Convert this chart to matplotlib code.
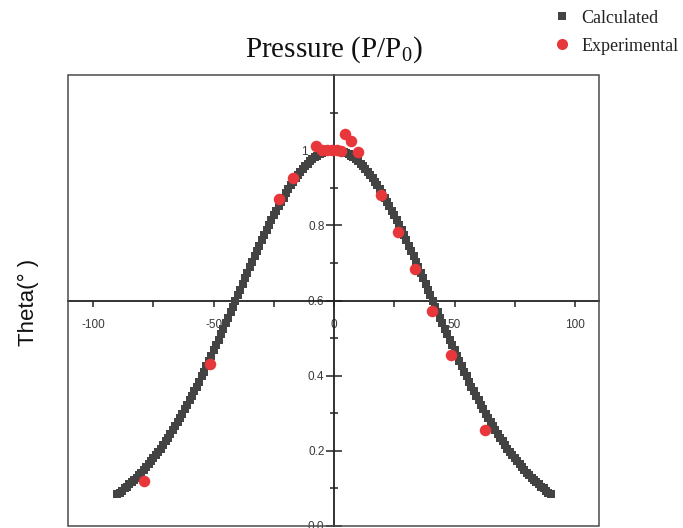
import matplotlib
matplotlib.use('Agg')
import matplotlib.pyplot as plt
from matplotlib.lines import Line2D
from matplotlib.patches import Rectangle
from matplotlib.ticker import FixedLocator
from matplotlib.transforms import ScaledTranslation

# ---------------- data ----------------
calc_x = list(range(-90, 91))
calc_y = [
    0.085, 0.089, 0.094, 0.100, 0.105, 0.111, 0.116, 0.122, 0.129, 0.135,
    0.142, 0.149, 0.156, 0.164, 0.172, 0.180, 0.188, 0.197, 0.206, 0.215,
    0.225, 0.234, 0.244, 0.255, 0.265, 0.276, 0.287, 0.298, 0.310, 0.322,
    0.334, 0.346, 0.359, 0.371, 0.384, 0.398, 0.411, 0.425, 0.439, 0.453,
    0.467, 0.481, 0.495, 0.510, 0.525, 0.539, 0.554, 0.569, 0.584, 0.599,
    0.614, 0.629, 0.644, 0.659, 0.674, 0.688, 0.703, 0.718, 0.732, 0.746,
    0.760, 0.774, 0.787, 0.801, 0.814, 0.827, 0.839, 0.851, 0.863, 0.874,
    0.885, 0.896, 0.906, 0.916, 0.925, 0.934, 0.942, 0.950, 0.957, 0.964,
    0.970, 0.976, 0.981, 0.985, 0.989, 0.992, 0.995, 0.997, 0.999, 1.000,
    1.000,
    1.000, 0.999, 0.997, 0.995, 0.992, 0.989, 0.985, 0.981, 0.976, 0.970,
    0.964, 0.957, 0.950, 0.942, 0.934, 0.925, 0.916, 0.906, 0.896, 0.885,
    0.874, 0.863, 0.851, 0.839, 0.827, 0.814, 0.801, 0.787, 0.774, 0.760,
    0.746, 0.732, 0.718, 0.703, 0.688, 0.674, 0.659, 0.644, 0.629, 0.614,
    0.599, 0.584, 0.569, 0.554, 0.539, 0.525, 0.510, 0.495, 0.481, 0.467,
    0.453, 0.439, 0.425, 0.411, 0.398, 0.384, 0.371, 0.359, 0.346, 0.334,
    0.322, 0.310, 0.298, 0.287, 0.276, 0.265, 0.255, 0.244, 0.234, 0.225,
    0.215, 0.206, 0.197, 0.188, 0.180, 0.172, 0.164, 0.156, 0.149, 0.142,
    0.135, 0.129, 0.122, 0.116, 0.111, 0.105, 0.100, 0.094, 0.089, 0.085,
]

exp_x = [-79, -51.5, -23, -17, -7.5, -5, -3, -1, 1, 3, 4.5, 7, 10,
         19.5, 26.5, 33.5, 40.5, 48.5, 62.5]
exp_y = [0.12, 0.432, 0.869, 0.925, 1.011, 1.0, 1.0, 1.0, 1.0, 0.998,
         1.043, 1.025, 0.995, 0.88, 0.781, 0.685, 0.571, 0.456, 0.256]

x_major = [-100, -50, 0, 50, 100]
x_minor = [-75, -25, 25, 75]
y_major = [0.0, 0.2, 0.4, 0.6, 0.8, 1.0]
y_major_labels = ["0.0", "0.2", "0.4", "0.6", "0.8", "1"]
y_minor = [0.1, 0.3, 0.5, 0.7, 0.9, 1.1]

title_text = "Pressure (P/P$\\mathregular{_0}$)"
ylabel_text = "Theta(° )"
legend_labels = ["Calculated", "Experimental"]

# ---------------- style ----------------
plt.rcParams['mathtext.fontset'] = 'custom'
plt.rcParams['mathtext.rm'] = 'Liberation Serif'
plt.rcParams['font.family'] = ['Liberation Sans', 'DejaVu Sans']

calc_color = '#434343'
exp_color = '#e8373a'

fig = plt.figure(figsize=(6.83, 5.28), dpi=100)
ax = fig.add_axes([68 / 683, 1 - 526 / 528, (599 - 68) / 683, (526 - 75) / 528])

ax.plot(calc_x, calc_y, linestyle='none', marker='s', markersize=6.4,
        color=calc_color, markeredgewidth=0, zorder=3)
ax.plot(exp_x, exp_y, linestyle='none', marker='o', markersize=8.3,
        color=exp_color, markeredgewidth=0, zorder=4)

ax.set_xlim(-110.5, 110)
ax.set_ylim(0.0, 1.2)

# central axes
for s in ['top', 'right']:
    ax.spines[s].set_visible(False)
ax.spines['left'].set_position(('data', 0))
ax.spines['bottom'].set_position(('data', 0.6))
ax.spines['left'].set_color('#222222')
ax.spines['bottom'].set_color('#222222')
ax.spines['left'].set_linewidth(1.3)
ax.spines['bottom'].set_linewidth(1.3)

# frame
ax.add_patch(Rectangle((0, 0), 1, 1, transform=ax.transAxes, fill=False,
                       edgecolor='#4a4a4a', linewidth=1.1, clip_on=False, zorder=2.6))

ax.xaxis.set_major_locator(FixedLocator(x_major))
ax.xaxis.set_minor_locator(FixedLocator(x_minor))
ax.set_xticklabels([str(v) for v in x_major])
ax.yaxis.set_major_locator(FixedLocator(y_major))
ax.yaxis.set_minor_locator(FixedLocator(y_minor))
ax.set_yticklabels(y_major_labels)

ax.tick_params(axis='x', which='major', direction='out', length=4.5, width=1.1,
               pad=9, labelsize=8.5, labelcolor='#3a3a3a', color='#222222')
ax.tick_params(axis='x', which='minor', direction='out', length=4.5, width=1.1,
               color='#222222')
ax.tick_params(axis='y', which='major', direction='inout', length=11, width=1.1,
               pad=1.5, labelsize=8.5, labelcolor='#3a3a3a', color='#222222')
ax.tick_params(axis='y', which='minor', direction='inout', length=6, width=1.1,
               color='#222222')

# the "1" label sits further left in the reference
fig.canvas.draw()
for lab in ax.get_yticklabels():
    if lab.get_text() == "1":
        lab.set_transform(lab.get_transform() +
                          ScaledTranslation(-17 / 100, 0, fig.dpi_scale_trans))

# title and y label
fig.text(334 / 683, 1 - 50 / 528, title_text, ha='center', va='center',
         fontsize=21, family='Liberation Serif', color='#111111')
fig.text(28 / 683, 1 - 302 / 528, ylabel_text, ha='center', va='center',
         rotation=90, fontsize=16, family='Liberation Sans', color='#111111')

# legend
handles = [
    Line2D([], [], linestyle='none', marker='s', markersize=6.0,
           color=calc_color, markeredgewidth=0),
    Line2D([], [], linestyle='none', marker='o', markersize=8.0,
           color=exp_color, markeredgewidth=0),
]
leg = fig.legend(handles, legend_labels, loc='upper left',
                 bbox_to_anchor=(549 / 683, 1 - 6 / 528),
                 bbox_transform=fig.transFigure, frameon=False,
                 handlelength=1.0, handletextpad=0.6, labelspacing=0.62,
                 borderaxespad=0, borderpad=0.2,
                 prop={'family': 'Liberation Serif', 'size': 13})
for t in leg.get_texts():
    t.set_color('#222222')

fig.savefig('out.png', dpi=100)
